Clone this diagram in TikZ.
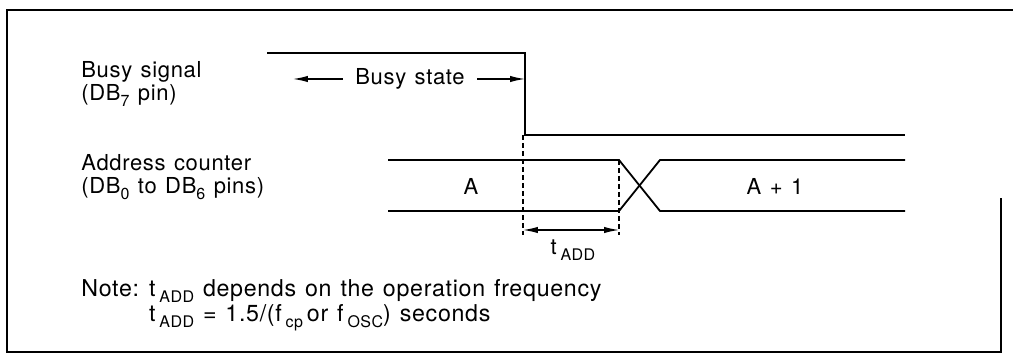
\documentclass[tikz,border=0pt]{standalone}
\usepackage{fontspec}
\setmainfont{TeX Gyre Heros}[LetterSpace=3, WordSpace=1.25]
\usetikzlibrary{arrows.meta, positioning}

\newcommand{\lowsub}[1]{\raisebox{-0.5ex}{\footnotesize #1}}

\begin{document}
\begin{tikzpicture}[
    x=0.5pt, y=-0.5pt,
    signal/.style={line width=0.9pt},
    guide/.style={line width=0.6pt, dash pattern=on 2.5pt off 1.5pt},
    dimline/.style={{Latex[length=2.6mm, width=1.1mm]}-{Latex[length=2.6mm, width=1.1mm]}, line width=0.6pt},
    pointer/.style={-{Latex[length=2.6mm, width=1.1mm]}, line width=0.6pt},
    lbl/.style={font=\fontsize{11}{11.8}\selectfont, inner sep=0pt, align=left}
]
\useasboundingbox (0,0) rectangle (1013,358);
% frame
\draw[line width=0.8pt] (1013,10) -- (7,10) -- (7,352) -- (1001,352) -- (1001,198);

% signal names
\node[lbl, anchor=west] (busyname) at (81,84) {Busy signal\\(DB\lowsub{7} pin)};
\node[lbl, anchor=west] (addrname) at (81,177) {Address counter\\(DB\lowsub{0} to DB\lowsub{6} pins)};

% busy signal
\coordinate (b0) at (267,53);
\coordinate (bhi) at (525,53);
\coordinate (blo) at (525,135);
\coordinate (b1) at (905,135);
\draw[signal] (b0) -- (bhi) -- (blo) -- (b1);

% busy state
\node[lbl, inner xsep=6pt] (busystate) at (410,79) {Busy state};
\coordinate (bsL) at (293,79);
\coordinate (bsR) at (525,79);
\draw[pointer] (busystate) -- (bsL);
\draw[pointer] (busystate) -- (bsR);

% address counter
\coordinate (aTL) at (388,160);
\coordinate (aBL) at (388,211);
\coordinate (xTL) at (619,160);
\coordinate (xBL) at (619,211);
\coordinate (xTR) at (660,160);
\coordinate (xBR) at (660,211);
\coordinate (aTR) at (905,160);
\coordinate (aBR) at (905,211);
\draw[signal] (aTL) -- (xTL) -- (xBR) -- (aBR);
\draw[signal] (aBL) -- (xBL) -- (xTR) -- (aTR);
\node[lbl] (valA) at (471,186) {A};
\node[lbl] (valA1) at (775,186) {A + 1};

% t_ADD
\coordinate (d1top) at (523,135);
\coordinate (d1bot) at (523,235);
\coordinate (d2top) at (619,160);
\coordinate (d2bot) at (619,235);
\draw[guide] (d1top) -- (d1bot);
\draw[guide] (d2top) -- (d2bot);
\coordinate (tL) at (523,230);
\coordinate (tR) at (619,230);
\draw[dimline] (tL) -- (tR);
\node[lbl] (tadd) at (573,250) {t\,\lowsub{ADD}};

% note
\node[lbl, font=\fontsize{11.6}{12}\selectfont, anchor=north west] (note) at (81,279) {%
  \begin{tabular}{@{}l@{\hspace{5pt}}l@{}}
  Note: & t\,\lowsub{ADD} depends on the operation frequency\\[0.3pt]
        & t\,\lowsub{ADD} = 1.5/(f\,\lowsub{cp}\,or f\,\lowsub{OSC}) seconds
  \end{tabular}};
\end{tikzpicture}
\end{document}
